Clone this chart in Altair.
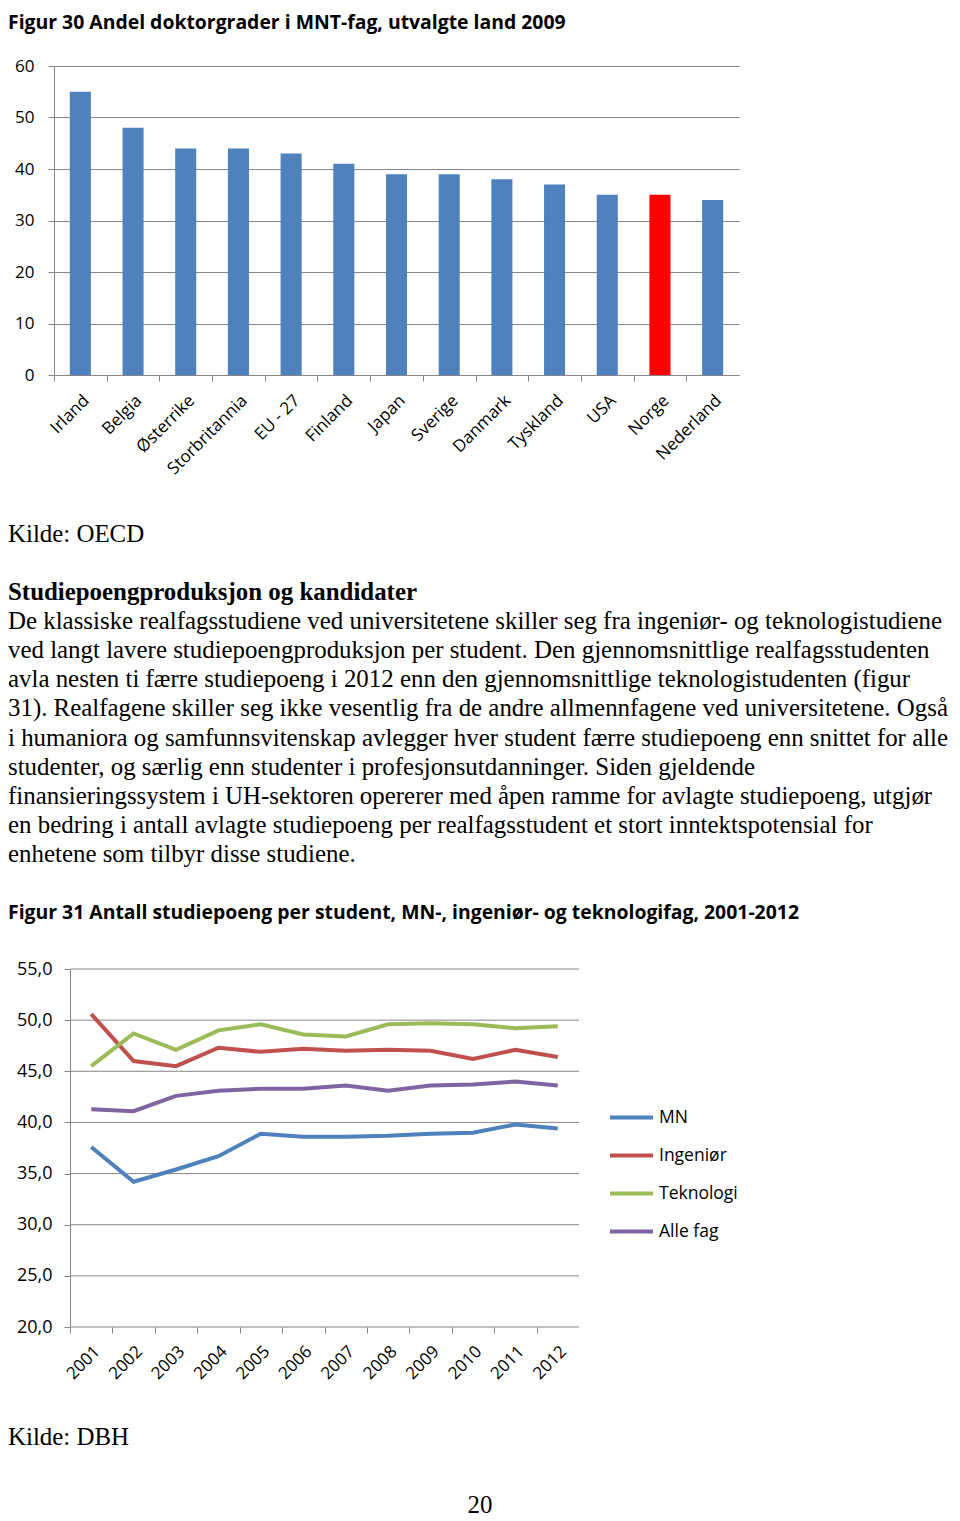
import altair as alt
import pandas as pd

# ---------------- data ----------------
title_fig30 = "Figur 30 Andel doktorgrader i MNT-fag, utvalgte land 2009"
countries = ["Irland", "Belgia", "Østerrike", "Storbritannia", "EU - 27", "Finland",
             "Japan", "Sverige", "Danmark", "Tyskland", "USA", "Norge", "Nederland"]
phd_share = [55, 48, 44, 44, 43, 41, 39, 39, 38, 37, 35, 35, 34]
highlight = "Norge"
bar_ticks = [0, 10, 20, 30, 40, 50, 60]

source_1 = "Kilde: OECD"
heading = "Studiepoengproduksjon og kandidater"
paragraph = [
    "De klassiske realfagsstudiene ved universitetene skiller seg fra ingeniør- og teknologistudiene",
    "ved langt lavere studiepoengproduksjon per student. Den gjennomsnittlige realfagsstudenten",
    "avla nesten ti færre studiepoeng i 2012 enn den gjennomsnittlige teknologistudenten (figur",
    "31). Realfagene skiller seg ikke vesentlig fra de andre allmennfagene ved universitetene. Også",
    "i humaniora og samfunnsvitenskap avlegger hver student færre studiepoeng enn snittet for alle",
    "studenter, og særlig enn studenter i profesjonsutdanninger. Siden gjeldende",
    "finansieringssystem i UH-sektoren opererer med åpen ramme for avlagte studiepoeng, utgjør",
    "en bedring i antall avlagte studiepoeng per realfagsstudent et stort inntektspotensial for",
    "enhetene som tilbyr disse studiene.",
]
title_fig31 = "Figur 31 Antall studiepoeng per student, MN-, ingeniør- og teknologifag, 2001-2012"

years = ["2001", "2002", "2003", "2004", "2005", "2006",
         "2007", "2008", "2009", "2010", "2011", "2012"]
series_names = ["MN", "Ingeniør", "Teknologi", "Alle fag"]
mn = [37.6, 34.2, 35.4, 36.7, 38.9, 38.6, 38.6, 38.7, 38.9, 39.0, 39.8, 39.4]
ingenior = [50.6, 46.0, 45.5, 47.3, 46.9, 47.2, 47.0, 47.1, 47.0, 46.2, 47.1, 46.4]
teknologi = [45.5, 48.7, 47.1, 49.0, 49.6, 48.6, 48.4, 49.6, 49.7, 49.6, 49.2, 49.4]
alle_fag = [41.3, 41.1, 42.6, 43.1, 43.3, 43.3, 43.6, 43.1, 43.6, 43.7, 44.0, 43.6]
line_ticks = [20, 25, 30, 35, 40, 45, 50, 55]

source_2 = "Kilde: DBH"
page_number = "20"

# ---------------- style ----------------
SANS = "Open Sans"
SERIF = "Liberation Serif"
BLUE = "#4F81BD"
RED = "#FF0000"
GRID = "#868686"
LINE_COLORS = ["#4F81BD", "#C0504D", "#9BBB59", "#8064A2"]
LEFT = 46            # distance from page content edge to the shared plot origin
PAGE_W = 944 - LEFT
BODY_SIZE = 24.9
TITLE_SIZE = 19.4


def text_panel(items, height, width=PAGE_W):
    """items: list of (text, ypos, font, size, weight, xpos, align)"""
    layers = []
    for txt, ypos, font, size, weight, xpos, align in items:
        df = pd.DataFrame({"t": [txt], "ypos": [ypos], "xpos": [xpos]})
        layers.append(
            alt.Chart(df).mark_text(font=font, fontSize=size, fontWeight=weight,
                                    align=align, baseline="middle", color="black")
            .encode(
                x=alt.X("xpos:Q", scale=alt.Scale(domain=[0, width], range=[0, width]), axis=None),
                y=alt.Y("ypos:Q", scale=alt.Scale(domain=[0, height], range=[0, height]), axis=None),
                text="t:N",
            )
        )
    return alt.layer(*layers).properties(width=width, height=height)


# ---------------- top title ----------------
top = text_panel([(title_fig30, 15, SANS, TITLE_SIZE, "bold", -LEFT, "left")], 49)

# ---------------- bar chart ----------------
BAR_W, BAR_H = 685, 309
bar_step = BAR_W / len(countries)
bar_df = pd.DataFrame({"land": countries, "andel": phd_share})
bars = alt.Chart(bar_df).mark_bar().encode(
    x=alt.X("land:N", sort=countries, title=None,
            scale=alt.Scale(paddingInner=0.6, paddingOuter=0.3),
            axis=alt.Axis(labelAngle=-45, labelFont=SANS, labelFontSize=17, labelColor="black",
                          domainColor=GRID, tickColor=GRID, tickSize=6,
                          tickOffset=-bar_step / 2, labelOffset=bar_step / 2,
                          labelPadding=11, grid=False)),
    y=alt.Y("andel:Q", title=None, scale=alt.Scale(domain=[0, 60], nice=False),
            axis=alt.Axis(values=bar_ticks, grid=True, gridColor=GRID, domainColor=GRID,
                          tickColor=GRID, tickSize=6, labelFont=SANS, labelFontSize=17,
                          labelColor="black", labelPadding=14, minExtent=LEFT)),
    color=alt.condition(alt.datum.land == highlight, alt.value(RED), alt.value(BLUE)),
).properties(width=BAR_W, height=BAR_H)

# ---------------- middle text ----------------
MID_H = 482
mid_items = [(source_1, 57, SERIF, BODY_SIZE, "normal", -LEFT, "left"),
             (heading, 115, SERIF, BODY_SIZE, "bold", -LEFT, "left")]
for i, line in enumerate(paragraph):
    mid_items.append((line, 144 + i * 29.15, SERIF, BODY_SIZE, "normal", -LEFT, "left"))
mid_items.append((title_fig31, 435, SANS, TITLE_SIZE, "bold", -LEFT, "left"))
middle = text_panel(mid_items, MID_H)

# ---------------- line chart ----------------
SHIFT = 16           # the line chart's plot starts 16 px right of the bar chart's
LINE_W, LINE_H = 509, 358
line_step = LINE_W / len(years)
rows = []
for name, vals in zip(series_names, [mn, ingenior, teknologi, alle_fag]):
    for yr, v in zip(years, vals):
        rows.append({"år": yr, "serie": name, "verdi": v})
line_df = pd.DataFrame(rows)
y_line = alt.Scale(domain=[20, 55], nice=False, zero=False)

gridlines = alt.Chart(pd.DataFrame({"v": line_ticks})).mark_rule(color=GRID, strokeWidth=1).encode(
    y=alt.Y("v:Q", scale=y_line, title=None),
    x=alt.value(SHIFT), x2=alt.value(SHIFT + LINE_W),
)

lines = alt.Chart(line_df).mark_line(strokeWidth=4).encode(
    x=alt.X("år:O", title=None, sort=years,
            scale=alt.Scale(type="point", padding=0.5, range=[SHIFT, SHIFT + LINE_W]),
            axis=alt.Axis(labelAngle=-45, labelFont=SANS, labelFontSize=17, labelColor="black",
                          domain=False, tickColor=GRID, tickSize=6,
                          tickOffset=-line_step / 2, labelOffset=line_step / 2,
                          labelPadding=10, grid=False)),
    y=alt.Y("verdi:Q", title=None, scale=y_line,
            axis=alt.Axis(values=line_ticks, grid=False, domainColor=GRID, offset=-SHIFT,
                          tickColor=GRID, tickSize=6, labelFont=SANS, labelFontSize=18,
                          labelColor="black", labelPadding=12,
                          labelExpr="replace(format(datum.value, '.1f'), '.', ',')")),
    color=alt.Color("serie:N", sort=series_names,
                    scale=alt.Scale(domain=series_names, range=LINE_COLORS),
                    legend=alt.Legend(title=None, orient="none", legendX=554, legendY=125,
                                      symbolType="stroke", symbolStrokeWidth=4, symbolSize=1849,
                                      labelFont=SANS, labelFontSize=17.5, labelColor="black",
                                      rowPadding=6, labelOffset=4, padding=0)),
)

line_chart = alt.layer(gridlines, lines).properties(width=SHIFT + LINE_W, height=LINE_H)

# ---------------- bottom text ----------------
bottom = text_panel([(source_2, 56, SERIF, BODY_SIZE, "normal", -LEFT, "left"),
                     (page_number, 124, SERIF, BODY_SIZE, "normal", 480 - 8 - LEFT, "center")], 128)

chart = alt.vconcat(
    top, bars, middle, line_chart, bottom, spacing=0,
).resolve_scale(color="independent").configure(padding=0).configure_view(stroke=None)

chart.save("out.html", embed_options={"renderer": "svg", "actions": False})
